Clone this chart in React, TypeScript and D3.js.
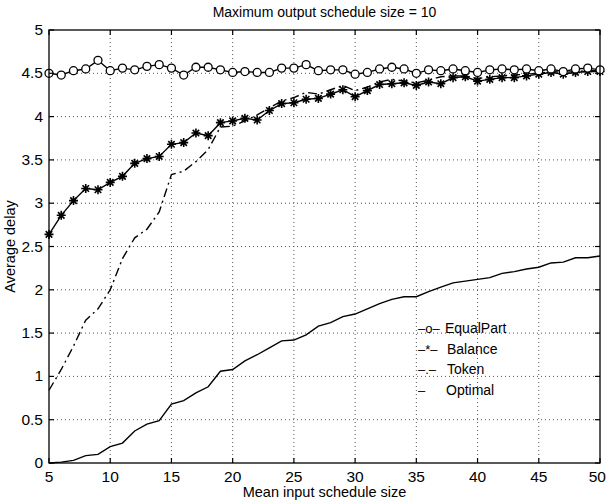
import React from "react";
import * as d3 from "d3";

const xValues = [5,6,7,8,9,10,11,12,13,14,15,16,17,18,19,20,21,22,23,24,25,26,27,28,29,30,31,32,33,34,35,36,37,38,39,40,41,42,43,44,45,46,47,48,49,50];

const equalPart = [4.50,4.48,4.53,4.55,4.65,4.53,4.56,4.54,4.58,4.60,4.56,4.48,4.57,4.57,4.54,4.51,4.52,4.51,4.51,4.56,4.56,4.60,4.53,4.54,4.54,4.49,4.51,4.55,4.57,4.55,4.50,4.54,4.53,4.55,4.53,4.51,4.54,4.55,4.54,4.55,4.53,4.55,4.52,4.55,4.56,4.54];

const balance = [2.64,2.86,3.03,3.17,3.155,3.24,3.31,3.46,3.515,3.54,3.68,3.70,3.81,3.78,3.93,3.95,3.98,3.96,4.07,4.15,4.16,4.20,4.21,4.26,4.31,4.23,4.30,4.37,4.38,4.39,4.36,4.40,4.38,4.45,4.46,4.41,4.43,4.45,4.45,4.47,4.49,4.51,4.49,4.51,4.52,4.52];

const token = [0.84,1.08,1.35,1.65,1.78,2.0,2.36,2.6,2.7,2.9,3.33,3.37,3.48,3.62,3.88,3.89,3.95,4.02,4.10,4.18,4.22,4.28,4.26,4.31,4.36,4.30,4.34,4.40,4.43,4.41,4.39,4.42,4.46,4.47,4.47,4.44,4.46,4.47,4.48,4.49,4.50,4.52,4.51,4.52,4.53,4.53];

const optimal = [0,0.01,0.03,0.085,0.1,0.19,0.23,0.37,0.45,0.49,0.68,0.72,0.81,0.88,1.06,1.08,1.18,1.25,1.33,1.41,1.42,1.48,1.58,1.62,1.69,1.72,1.78,1.84,1.89,1.92,1.92,1.98,2.03,2.08,2.10,2.12,2.14,2.19,2.21,2.24,2.26,2.31,2.32,2.37,2.37,2.39];

const xTicks = [5,10,15,20,25,30,35,40,45,50];
const yTicks = [0,0.5,1,1.5,2,2.5,3,3.5,4,4.5,5];
const yTickLabels = ["0","0.5","1","1.5","2","2.5","3","3.5","4","4.5","5"];

const legendSymbols = ["–o–", "–*–", "–.–", "–"];
const legendNames = ["EqualPart", "Balance", "Token", "Optimal"];

const W = 607, H = 502;
const L = 49, R = 600, T = 30, B = 463;
const FONT = "'Liberation Sans', Arial, Helvetica, sans-serif";

export default function App() {
  const x = d3.scaleLinear().domain([5, 50]).range([L, R]);
  const y = d3.scaleLinear().domain([0, 5]).range([B, T]);
  const line = d3.line<number>().x((_, i) => x(xValues[i])).y((d) => y(d));
  const s = 4.5;
  const k = s * 0.72;
  const star = `M${-s},0L${s},0M0,${-s}L0,${s}M${-k},${-k}L${k},${k}M${-k},${k}L${k},${-k}`;
  const tl = 5;
  const nameX = [445, 447, 447, 446];

  return (
    <svg width={W} height={H} style={{ position: "absolute", left: 0, top: 0, background: "#fff" }} fontFamily={FONT}>
      <rect x={0} y={0} width={W} height={H} fill="#fff" />
      {xTicks.slice(1, -1).map((t) => (
        <line key={"gx" + t} x1={x(t)} x2={x(t)} y1={T} y2={B} stroke="#555" strokeWidth={1} strokeDasharray="1 3" />
      ))}
      {yTicks.slice(1, -1).map((t) => (
        <line key={"gy" + t} x1={L} x2={R} y1={y(t)} y2={y(t)} stroke="#555" strokeWidth={1} strokeDasharray="1 3" />
      ))}
      <path d={line(optimal) || ""} fill="none" stroke="#000" strokeWidth={1.4} />
      <path d={line(token) || ""} fill="none" stroke="#000" strokeWidth={1.4} strokeDasharray="9 4 2 4" />
      <path d={line(balance) || ""} fill="none" stroke="#000" strokeWidth={1.4} />
      <path d={line(equalPart) || ""} fill="none" stroke="#000" strokeWidth={1.4} />
      {balance.map((v, i) => (
        <path key={"b" + i} d={star} transform={`translate(${x(xValues[i])},${y(v)})`} fill="none" stroke="#000" strokeWidth={1.6} />
      ))}
      {equalPart.map((v, i) => (
        <circle key={"e" + i} cx={x(xValues[i])} cy={y(v)} r={4} fill="#fff" stroke="#000" strokeWidth={1.3} />
      ))}
      <rect x={L} y={T} width={R - L} height={B - T} fill="none" stroke="#000" strokeWidth={1.3} />
      {xTicks.map((t, i) => {
        const last = i === xTicks.length - 1;
        return (
          <g key={"tx" + t}>
            <line x1={x(t)} x2={x(t)} y1={B} y2={B - tl} stroke="#000" strokeWidth={1.2} />
            <line x1={x(t)} x2={x(t)} y1={T} y2={T + tl} stroke="#000" strokeWidth={1.2} />
            <text x={last ? 606 : x(t)} y={B + 19} fontSize={15.5} textAnchor={last ? "end" : "middle"} fill="#000">{t}</text>
          </g>
        );
      })}
      {yTicks.map((t, i) => (
        <g key={"ty" + t}>
          <line x1={L} x2={L + tl} y1={y(t)} y2={y(t)} stroke="#000" strokeWidth={1.2} />
          <line x1={R} x2={R - tl} y1={y(t)} y2={y(t)} stroke="#000" strokeWidth={1.2} />
          <text x={L - 6} y={y(t) + 5} fontSize={15.5} textAnchor="end" fill="#000">{yTickLabels[i]}</text>
        </g>
      ))}
      <text x={(L + R) / 2} y={17} fontSize={14} textAnchor="middle" fill="#000">Maximum output schedule size = 10</text>
      <text x={(L + R) / 2} y={497} fontSize={14.5} textAnchor="middle" fill="#000">Mean input schedule size</text>
      <text transform={`translate(15,${(T + B) / 2}) rotate(-90)`} fontSize={14.5} textAnchor="middle" fill="#000">Average delay</text>
      {legendNames.map((n, i) => (
        <g key={"lg" + i}>
          <text x={418} y={333 + i * 20.5} fontSize={13} fill="#000">{legendSymbols[i]}</text>
          <text x={nameX[i]} y={333 + i * 20.5} fontSize={14} fill="#000">{n}</text>
        </g>
      ))}
    </svg>
  );
}
